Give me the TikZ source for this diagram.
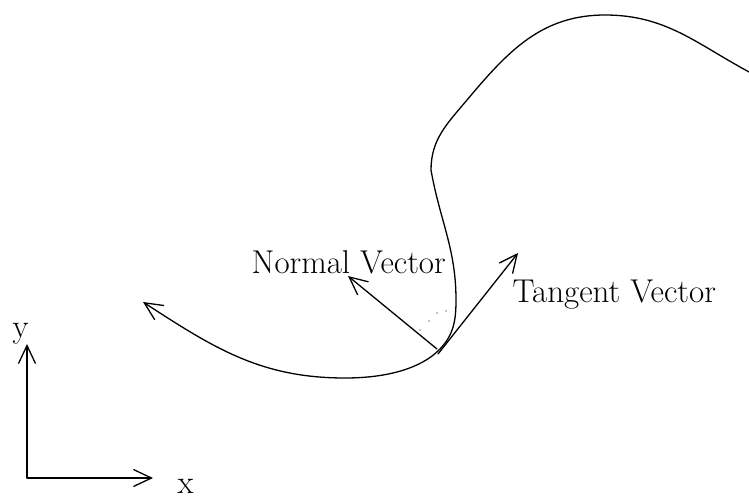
\documentclass[tikz,border=0pt]{standalone}
\usetikzlibrary{arrows.meta}
\begin{document}
\begin{tikzpicture}[x=1pt,y=-1pt,line width=1.3pt,line cap=round,
  tip/.style={-{Straight Barb[length=18pt,width=17pt,line width=1.3pt]}},
  lbl/.style={anchor=base west,inner sep=0pt,font=\fontsize{33}{38}\selectfont}]
\useasboundingbox (0,0) rectangle (749,498);
% axes
\coordinate (O) at (27,478);
\coordinate (Y) at (27,344);
\coordinate (X) at (153,478);
\draw[tip] (O) -- (Y);
\draw[tip] (O) -- (X);
\node[lbl] (ylab) at (12,337) {y};
\node[lbl] (xlab) at (177,493) {x};
% curve
\coordinate (A) at (143,302);
\coordinate (C) at (345,378);
\coordinate (D) at (439,350);
\coordinate (E) at (456,300);
\coordinate (F) at (431,170);
\coordinate (G) at (467,100);
\coordinate (H) at (605,15);
\coordinate (I) at (751,73);
\draw[{Straight Barb[length=18pt,width=17pt,line width=1.3pt]}-]
  (A) to[out=-33,in=180] (C) .. controls (388,378) and (421,368) .. (D)
  to[out=45,in=-90] (E)
  to[out=90,in=-80] (F) to[out=90,in=-130] (G) to[out=50,in=180] (H)
  to[out=0,in=152] (I);
% vectors
\coordinate (PN) at (437,349);
\coordinate (PT) at (438,354);
\coordinate (N) at (348,276);
\coordinate (T) at (518,253);
\draw[tip] (PN) -- (N);
\draw[tip] (PT) -- (T);
\node[lbl] (nlab) at (251,273) {Normal Vector};
\node[lbl] (tlab) at (512,302) {Tangent Vector};
% dotted angle mark
\foreach \p in {(420,330),(429,321),(437,313),(446,311)}
  \fill \p circle (0.7pt);
\end{tikzpicture}
\end{document}
